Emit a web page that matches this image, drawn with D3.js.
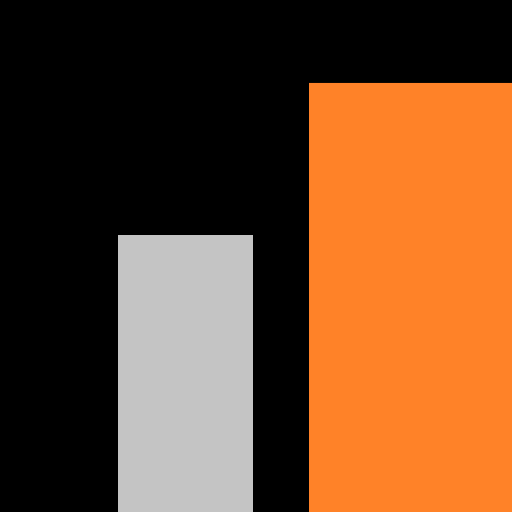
<!DOCTYPE html>
<html>
<head>
<meta charset="utf-8">
<script src="https://cdn.jsdelivr.net/npm/d3@7"></script>
<style>
  html, body { margin: 0; padding: 0; background: #000; overflow: hidden; }
</style>
</head>
<body>
<div id="chart"></div>
<script>
// chart data
const categories = ["A", "B"];
const values = [54.1, 83.8];
const colors = ["#c4c4c4", "#ff8228"];

const width = 512;
const height = 512;

const svg = d3.select("#chart")
    .append("svg")
    .attr("width", width)
    .attr("height", height);

svg.append("rect")
    .attr("width", width)
    .attr("height", height)
    .attr("fill", "#000");

// band scale, the view is cropped so the last bar runs off the right edge
const x = d3.scaleBand()
    .domain(categories)
    .range([118, 444])
    .paddingInner(0.2932)
    .paddingOuter(0);

const y = d3.scaleLinear()
    .domain([0, 100])
    .range([height, 0]);

svg.append("g")
    .selectAll("rect")
    .data(categories)
    .join("rect")
    .attr("x", d => x(d))
    .attr("y", (d, i) => y(values[i]))
    .attr("width", (d, i) => i === categories.length - 1 ? width - x(d) : x.bandwidth())
    .attr("height", (d, i) => y(0) - y(values[i]))
    .attr("fill", (d, i) => colors[i]);
</script>
</body>
</html>
